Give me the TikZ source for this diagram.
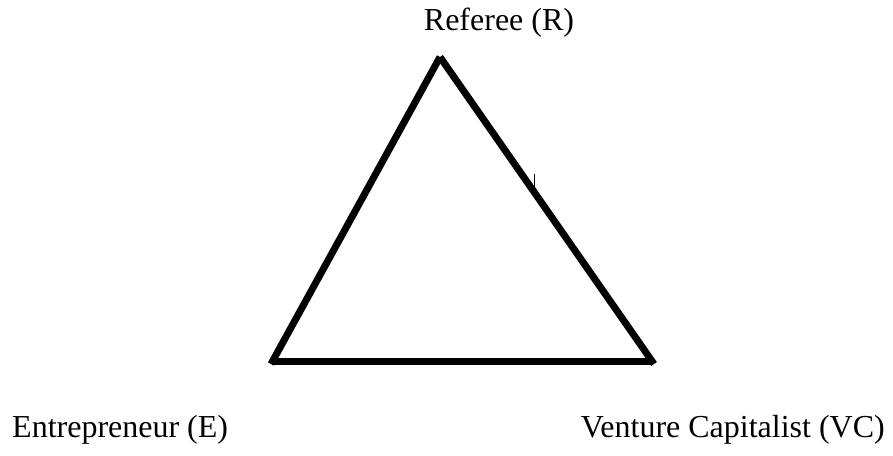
\documentclass[tikz,border=0pt]{standalone}
\usepackage{fontspec}
\setmainfont{Liberation Serif}
\tikzset{
  side/.style={line width=7pt, line cap=butt},
  lbl/.style={inner sep=0pt, font=\fontsize{32}{38}\selectfont},
  tick/.style={line width=1pt}
}
\begin{document}
\begin{tikzpicture}[x=1pt,y=-1pt]
\useasboundingbox (0,0) rectangle (893,455);
\coordinate (R) at (440,57);
\coordinate (E) at (271,364);
\coordinate (V) at (654,364);
\coordinate (EB) at (272,361.5);
\coordinate (VB) at (650,361.5);
\draw[side] (R) -- (E);
\draw[side] (R) -- (V);
\draw[side] (EB) -- (VB);
\coordinate (t1) at (534,174);
\coordinate (t2) at (534,189);
\draw[tick] (t1) -- (t2);
\node[lbl, anchor=base] (lr) at (499,30) {Referee (R)};
\node[lbl, anchor=base west] (le) at (12,437) {Entrepreneur (E)};
\node[lbl, anchor=base east] (lv) at (885,437) {Venture Capitalist (VC)};
\end{tikzpicture}
\end{document}
